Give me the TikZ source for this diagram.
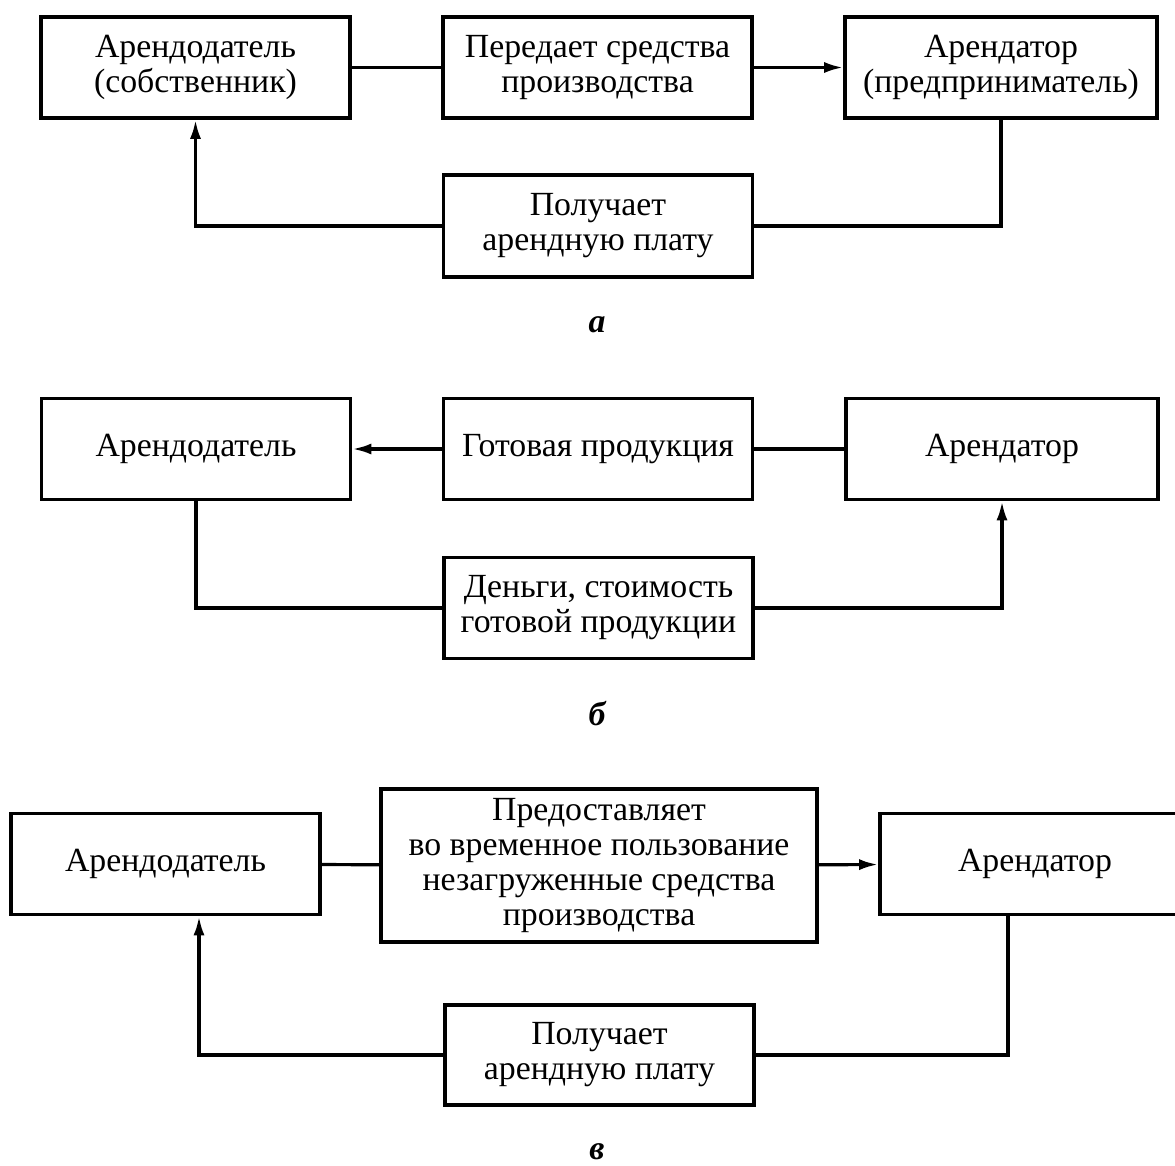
\documentclass[tikz,border=0pt]{standalone}
\usepackage{fontspec}
\setmainfont{Liberation Serif}
\usetikzlibrary{arrows.meta}

\tikzset{
  box/.style={draw, line width=3.6pt, inner sep=0pt, align=center,
    minimum width=309pt, minimum height=101pt,
    font=\fontsize{33.8}{35}\selectfont},
  link/.style={line width=3.2pt},
  arr/.style={link, -{Latex[length=19pt,width=11pt]}},
  tag/.style={font=\fontsize{33.8}{35}\selectfont\bfseries\itshape}
}

\begin{document}
\begin{tikzpicture}[x=1pt, y=-1pt]
\useasboundingbox (0,0) rectangle (1175,1166);

% a: lease of the means of production
\node[box] (ownerA) at (195.5,67.5) {Арендодатель\\(собственник)};
\node[box] (transferA) at (597.5,67.5) {Передает средства\\производства};
\node[box, minimum width=312pt] (tenantA) at (1001,67.5) {Арендатор\\(предприниматель)};
\node[box, minimum height=102pt] (rentA) at (598,226) {Получает\\арендную плату};
\draw[link] (ownerA) -- (transferA);
\draw[arr] (transferA) -- (tenantA);
\draw[link] (tenantA.south) |- (rentA.east);
\draw[arr] (rentA.west) -| (ownerA.south);
\node[tag] (labelA) at (597,325) {а};

% b: finished goods go back
\node[box] (ownerB) at (196,449) {Арендодатель};
\node[box] (goodsB) at (598,449) {Готовая продукция};
\node[box, minimum width=312pt] (tenantB) at (1002,449) {Арендатор};
\node[box] (moneyB) at (598.5,608) {Деньги, стоимость\\готовой продукции};
\draw[arr] (goodsB) -- (ownerB);
\draw[link] (tenantB) -- (goodsB);
\draw[link] (ownerB.south) |- (moneyB.west);
\draw[arr] (moneyB.east) -| (tenantB.south);
\node[tag] (labelB) at (597,714) {б};

% c: idle means of production for temporary use
\node[box] (ownerC) at (165.5,864) {Арендодатель};
\node[box, minimum width=436pt, minimum height=153pt] (lendC) at (599,865.5)
  {Предоставляет\\во временное пользование\\незагруженные средства\\производства};
\node[box, minimum width=310pt] (tenantC) at (1035,864) {Арендатор};
\node[box, minimum height=100pt] (rentC) at (599.5,1055) {Получает\\арендную плату};
\coordinate (turnC) at (199,0);
\coordinate (downC) at (1008,0);
\draw[link] (ownerC) -- (lendC);
\draw[arr] (lendC) -- (tenantC);
\draw[link] (tenantC.south -| downC) |- (rentC.east);
\draw[arr] (rentC.west) -| (ownerC.south -| turnC);
\node[tag] (labelC) at (597,1152) {в};
\end{tikzpicture}
\end{document}
